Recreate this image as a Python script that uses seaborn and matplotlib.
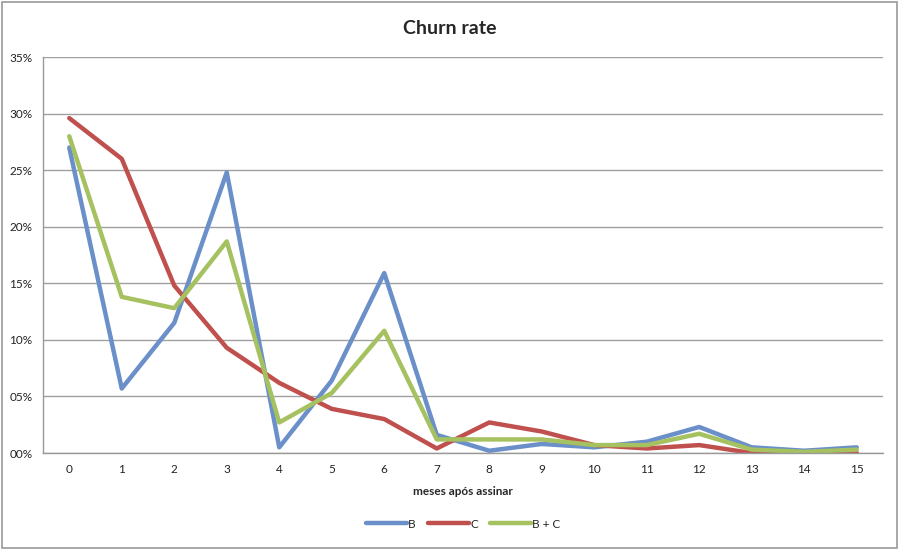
import matplotlib
matplotlib.use("Agg")
import matplotlib.pyplot as plt
import matplotlib.ticker as mticker
import seaborn as sns
import pandas as pd
import numpy as np

months = list(range(16))
b_vals = [27.0, 5.7, 11.5, 24.8, 0.5, 6.4, 15.9, 1.6, 0.2, 0.8, 0.5, 1.0, 2.3, 0.5, 0.2, 0.5]
c_vals = [29.6, 26.0, 14.8, 9.3, 6.2, 3.9, 3.0, 0.4, 2.7, 1.9, 0.7, 0.4, 0.7, 0.0, 0.0, 0.0]
bc_vals = [28.0, 13.8, 12.8, 18.7, 2.7, 5.3, 10.8, 1.2, 1.2, 1.2, 0.7, 0.7, 1.7, 0.3, 0.1, 0.3]
series_names = ["B", "C", "B + C"]
colors = ["#6A8FC9", "#C0504D", "#A5C160"]

df = pd.concat([
    pd.DataFrame({"mes": months, "rate": vals, "serie": name})
    for name, vals in zip(series_names, [b_vals, c_vals, bc_vals])
])

sns.set_style("white")
plt.rcParams['font.family'] = ['Lato', 'DejaVu Sans']

fig = plt.figure(figsize=(9, 5.49), dpi=100)
ax = fig.add_axes([43/900, 1-453/549, (883-43)/900, (453-57)/549])

sns.lineplot(data=df, x="mes", y="rate", hue="serie", palette=colors,
             linewidth=3.2, ax=ax, legend=True, sort=False)

ax.set_xlim(-0.5, 15.5)
ax.set_ylim(0, 35)
ax.set_yticks(np.arange(0, 36, 5))
ax.yaxis.set_major_formatter(mticker.FuncFormatter(lambda v, p: f"{int(v):02d}%"))
ax.set_xticks(months)
ax.set_xticks(np.arange(-0.5, 16, 1), minor=True)
ax.tick_params(axis='x', which='major', length=0, pad=8, labelsize=8.5, colors="#222222")
ax.tick_params(axis='x', which='minor', length=4, color="#999999", direction='out')
ax.tick_params(axis='y', which='major', length=4, color="#999999", direction='out', labelsize=8.5, colors="#222222")
ax.tick_params(axis='y', which='major', color="#999999")
ax.grid(axis='y', color="#a0a0a0", linewidth=1)
ax.set_axisbelow(True)
for s in ['top', 'right']:
    ax.spines[s].set_visible(False)
for s in ['left', 'bottom']:
    ax.spines[s].set_color("#999999")
    ax.spines[s].set_linewidth(1)

ax.set_xlabel("meses após assinar", fontsize=8.5, fontweight='bold', labelpad=8)
ax.set_ylabel("")
fig.text(0.5, 1-28/549, "Churn rate", ha='center', va='center', fontsize=14, fontweight='bold')

leg = ax.legend(loc='center', bbox_to_anchor=(0.5, (453-524)/(453-57)), ncol=3, frameon=False,
                fontsize=8.5, handlelength=3.5, handletextpad=0.1, columnspacing=1.0)
for line in leg.get_lines():
    line.set_linewidth(3.2)

fig.patches.append(plt.Rectangle((0.002, 0.002), 0.995, 0.995, transform=fig.transFigure,
                                 fill=False, edgecolor="#999999", linewidth=1.2))

fig.savefig("out.png", dpi=100)
